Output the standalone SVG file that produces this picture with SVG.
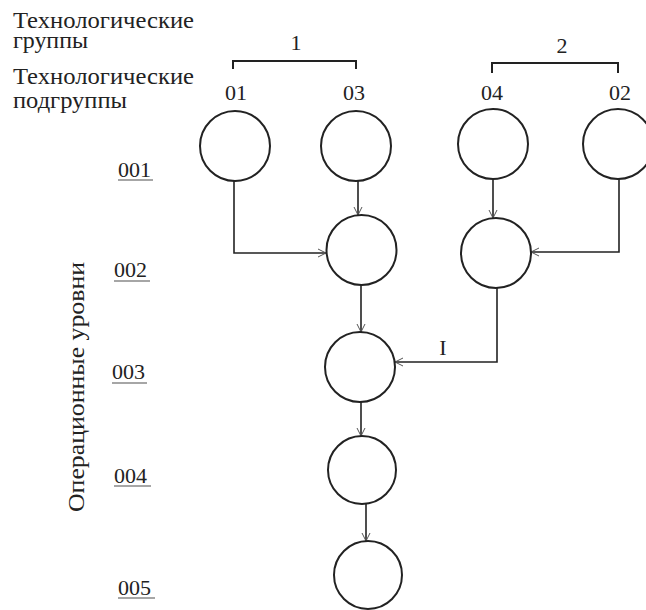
<svg xmlns="http://www.w3.org/2000/svg" width="646" height="610" viewBox="0 0 646 610">
<style>
text{font-family:'Liberation Serif','Noto Serif','DejaVu Serif','Times New Roman',serif;fill:#222}
.t{font-size:23px}
.d{font-size:22px}
.n{fill:#fff;stroke:#222;stroke-width:2}
.c{fill:none;stroke:#222;stroke-width:1.6}
.u{stroke:#888;stroke-width:1.5}
.b{fill:none;stroke:#222;stroke-width:2}
</style>
<defs>
<marker id="ah" markerUnits="userSpaceOnUse" markerWidth="12" markerHeight="12" refX="9" refY="5" orient="auto">
<path d="M1,1 L9,5 L1,9" fill="none" stroke="#555" stroke-width="1"/>
</marker>
</defs>
<g id="headers">
<text class="t" x="13" y="28" textLength="181" lengthAdjust="spacingAndGlyphs">Технологические</text>
<text class="t" x="13" y="48" textLength="75" lengthAdjust="spacingAndGlyphs">группы</text>
<text class="t" x="13" y="84" textLength="181" lengthAdjust="spacingAndGlyphs">Технологические</text>
<text class="t" x="13" y="108" textLength="114" lengthAdjust="spacingAndGlyphs">подгруппы</text>
<text class="t" transform="translate(84,512) rotate(-90)" textLength="250" lengthAdjust="spacingAndGlyphs">Операционные уровни</text>
</g>
<g id="brackets">
<path class="b" d="M233,69 V61 H356 V69"/>
<text class="d" x="296" y="50" text-anchor="middle">1</text>
<path class="b" d="M492,73 V63 H618 V73"/>
<text class="d" x="562" y="53" text-anchor="middle">2</text>
</g>
<g id="levels">
<text class="d" x="118" y="177">001</text>
<line class="u" x1="118" y1="180" x2="153" y2="180"/>
<text class="d" x="114" y="277">002</text>
<line class="u" x1="114" y1="281" x2="150" y2="281"/>
<text class="d" x="112" y="379">003</text>
<line class="u" x1="112" y1="383" x2="147" y2="383"/>
<text class="d" x="114" y="483">004</text>
<line class="u" x1="114" y1="486" x2="151" y2="486"/>
<text class="d" x="118" y="595">005</text>
<line class="u" x1="118" y1="598" x2="155" y2="598"/>
</g>
<g id="connectors">
<path class="c" d="M234,181 V253 H326" marker-end="url(#ah)"/>
<path class="c" d="M358,181 V215" marker-end="url(#ah)"/>
<path class="c" d="M493,179 V218" marker-end="url(#ah)"/>
<path class="c" d="M619,179 V252 H531" marker-end="url(#ah)"/>
<path class="c" d="M361,285 V332" marker-end="url(#ah)"/>
<path class="c" d="M497,288 V362 H395" marker-end="url(#ah)"/>
<text class="d" x="443" y="355" text-anchor="middle">I</text>
<path class="c" d="M361,402 V436" marker-end="url(#ah)"/>
<path class="c" d="M366,504 V541" marker-end="url(#ah)"/>
</g>
<g id="n01"><circle class="n" cx="235" cy="146" r="35"/><text class="d" x="236" y="100" text-anchor="middle">01</text></g>
<g id="n03"><circle class="n" cx="356" cy="146" r="35"/><text class="d" x="354" y="100" text-anchor="middle">03</text></g>
<g id="n04"><circle class="n" cx="493" cy="144" r="35"/><text class="d" x="492" y="100" text-anchor="middle">04</text></g>
<g id="n02"><circle class="n" cx="618" cy="144" r="35"/><text class="d" x="620" y="100" text-anchor="middle">02</text></g>
<g id="n002a"><circle class="n" cx="361.5" cy="250" r="35"/></g>
<g id="n002b"><circle class="n" cx="496" cy="253" r="35"/></g>
<g id="n003"><circle class="n" cx="360" cy="367" r="35"/></g>
<g id="n004"><circle class="n" cx="362" cy="470" r="34"/></g>
<g id="n005"><circle class="n" cx="368" cy="575" r="34"/></g>
</svg>
